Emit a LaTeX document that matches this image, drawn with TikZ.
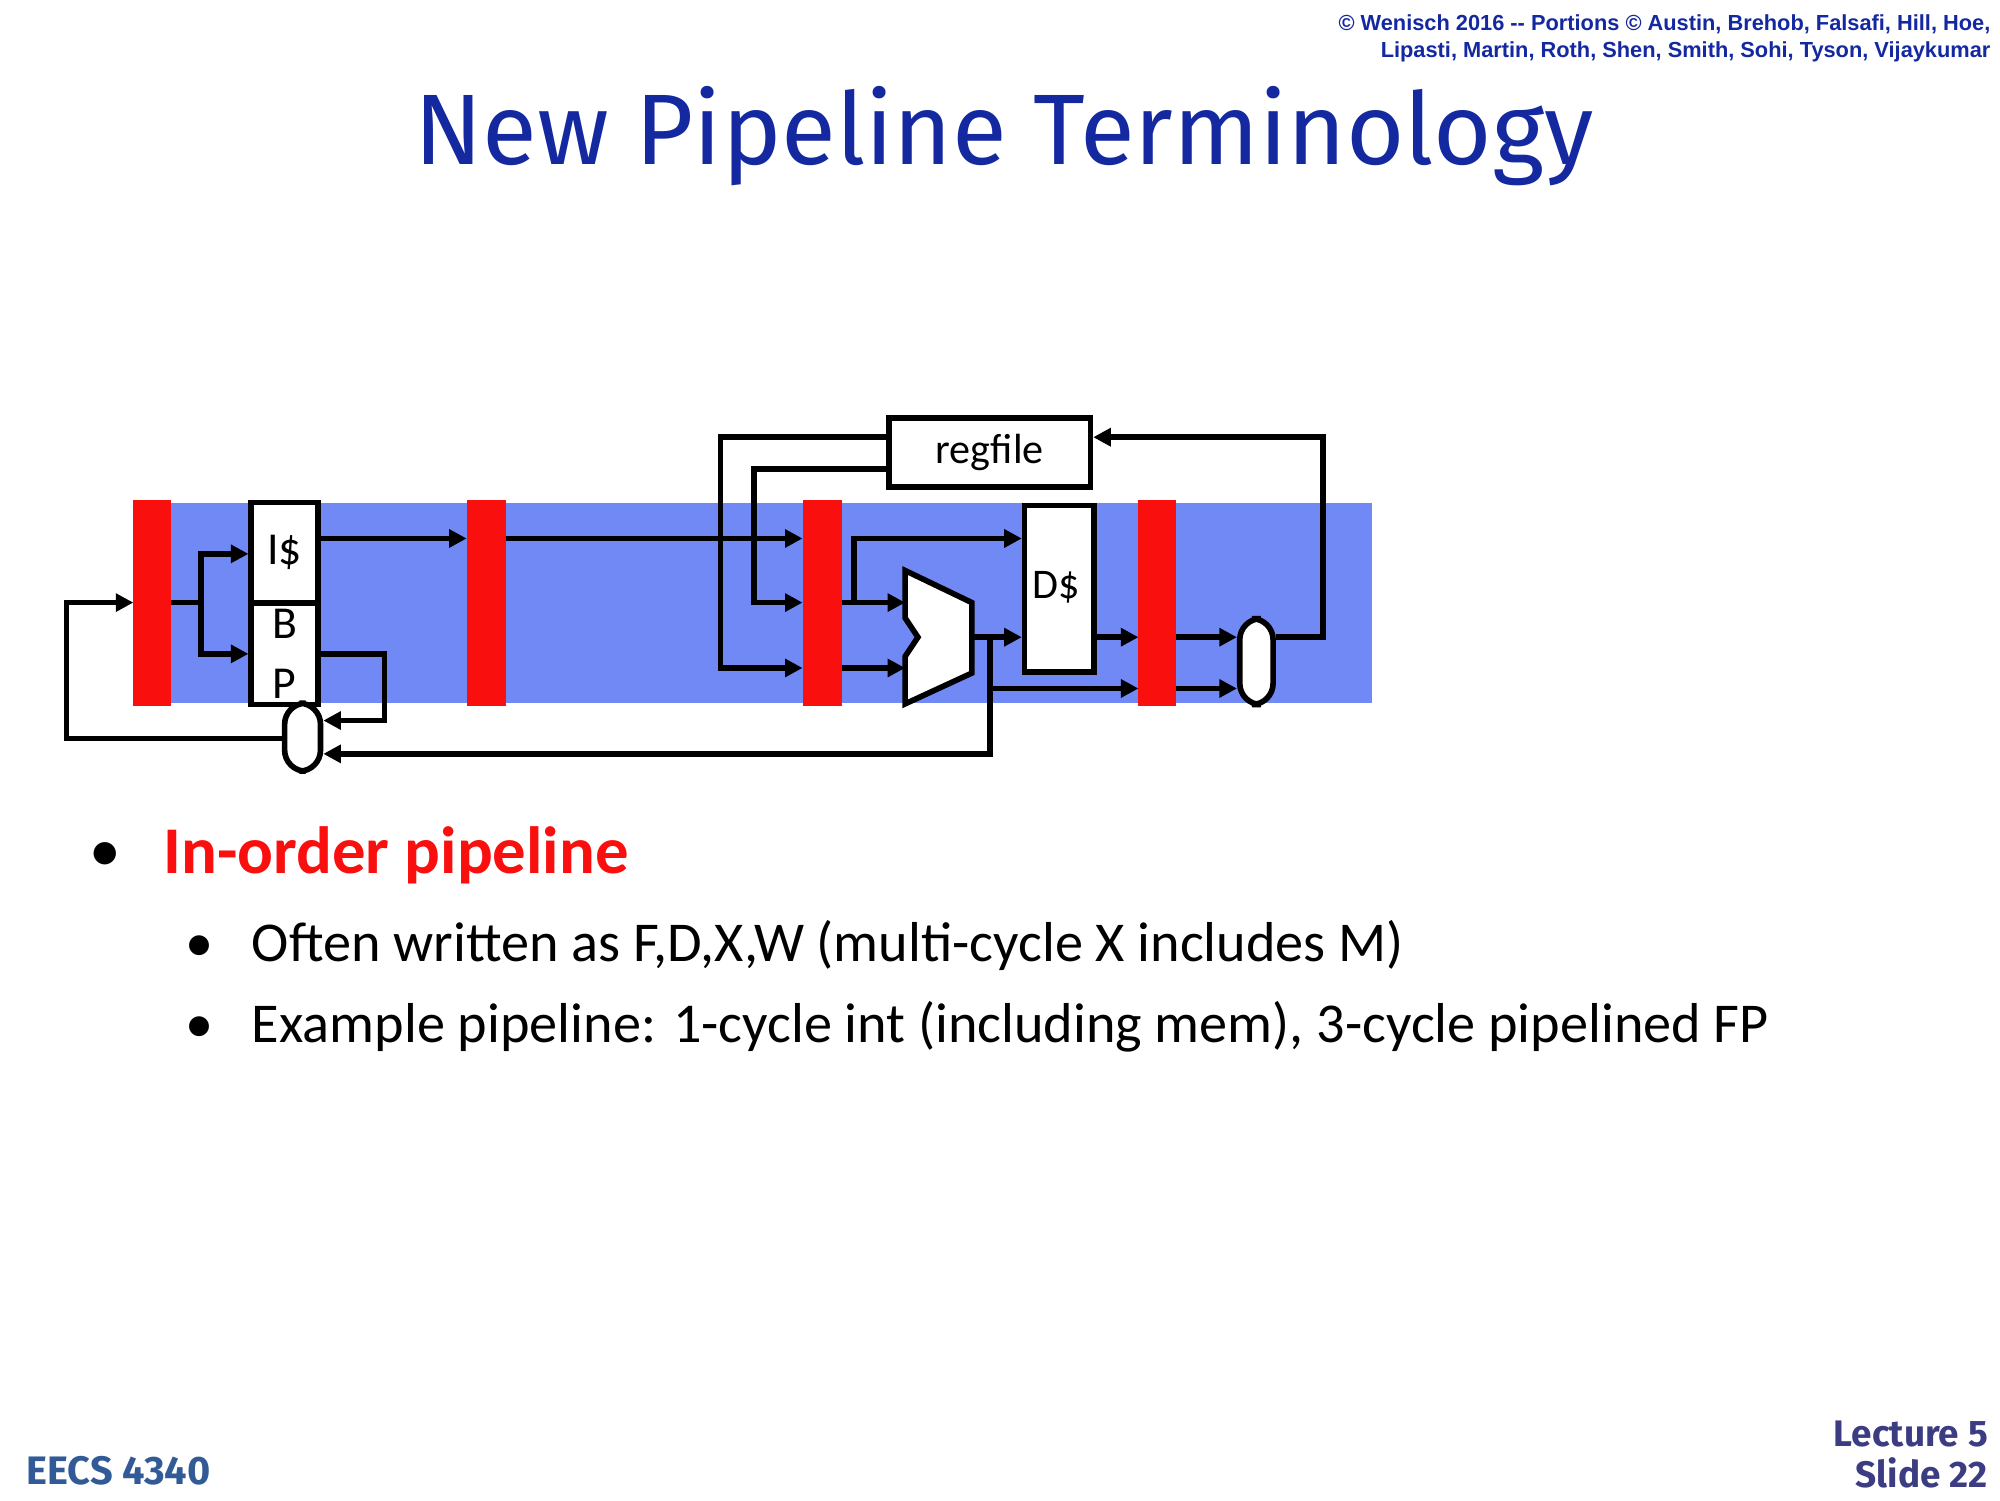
\documentclass[tikz,border=0pt]{standalone}
\usepackage{fontspec}
\setmainfont{Carlito}
\newfontfamily\hdr{Liberation Sans}
\newfontfamily\ttl{Fira Sans}
\usetikzlibrary{arrows.meta}
\definecolor{navy}{RGB}{20,40,160}
\definecolor{band}{RGB}{112,137,245}
\definecolor{stage}{RGB}{250,15,15}
\definecolor{eecs}{RGB}{50,90,150}
\definecolor{lect}{RGB}{60,60,130}
\begin{document}
\begin{tikzpicture}[x=0.012821cm,y=-0.012821cm,
  w/.style={line width=1.6pt},
  a/.style={w,-{Triangle[length=5pt,width=5pt]}},
  box/.style={draw,line width=1.6pt,fill=white,inner sep=0pt},
  bar/.style={fill=stage,draw=none}]
\useasboundingbox (0,0) rectangle (1560,1170);
% band
\fill[band] (130,392) rectangle (1070,548);
% bars
\fill[bar] (104,390) rectangle (133,551);
\fill[bar] (364,390) rectangle (395,551);
\fill[bar] (626,390) rectangle (657,551);
\fill[bar] (888,390) rectangle (917,551);
\coordinate (b1l) at (104,470); \coordinate (b1r) at (133,470);
% boxes
\node[box,minimum width=52*0.012821cm,minimum height=78*0.012821cm,font=\fontsize{13}{13}\selectfont] (ic) at (222,431) {I\$};
\node[box,minimum width=52*0.012821cm,minimum height=79*0.012821cm,font=\fontsize{13}{17}\selectfont,align=center] (bp) at (222,510) {B\\P};
\node[box,minimum width=157*0.012821cm,minimum height=54*0.012821cm,font=\fontsize{12}{12}\selectfont] (rf) at (772,353) {regfile};
\node[box,minimum width=54*0.012821cm,minimum height=130*0.012821cm,anchor=north west] (dc) at (797,392) {};
\node[font=\fontsize{12}{12}\selectfont] (dcl) at (824,458) {D\$};
\draw[w,fill=white,line join=miter] (706,445) -- (758,470) -- (758,525) -- (706,549) -- (706,512) -- (716,497) -- (706,482) -- cycle;
\node[box,rounded corners=6pt,minimum width=28*0.012821cm,minimum height=53*0.012821cm] (m1) at (236,575) {};
\node[box,rounded corners=6pt,minimum width=26*0.012821cm,minimum height=67*0.012821cm] (m2) at (980,516) {};
% wires
\draw[a] (m1.west|-0,576) -- (52,576) -- (52,470) -- (b1l);
\draw[w] (b1r) -- (157,470);
\draw[a] (157,470) -- (157,432) -- (ic.west|-0,432);
\draw[a] (157,470) -- (157,510) -- (bp.west|-0,510);
\draw[a] (bp.east|-0,510) -- (300,510) -- (300,562) -- (m1.east|-0,562);
\draw[a] (ic.east|-0,420) -- (364,420);
\draw[a] (395,420) -- (626,420);
\draw[a] (rf.west|-0,341) -- (562,341) -- (562,521) -- (626,521);
\draw[a] (rf.west|-0,366) -- (588,366) -- (588,470) -- (626,470);
\draw[a] (657,470) -- (706,470);
\draw[a] (666,470) -- (666,420) -- (dc.west|-0,420);
\draw[a] (657,521) -- (706,521);
\draw[a] (758,497) -- (dc.west|-0,497);
\draw[a] (772,497) -- (772,537) -- (888,537);
\draw[a] (772,537) -- (772,588) -- (m1.east|-0,588);
\draw[a] (dc.east|-0,497) -- (888,497);
\draw[a] (917,497) -- (m2.west|-0,497);
\draw[a] (917,537) -- (m2.west|-0,537);
\draw[a] (m2.east|-0,497) -- (1032,497) -- (1032,341) -- (rf.east|-0,341);
% header
\node[font=\hdr\bfseries\fontsize{6.2}{7.7}\selectfont,text=navy,align=right,anchor=north east,inner sep=0pt] (h) at (1553,11) {© Wenisch 2016 -- Portions © Austin, Brehob, Falsafi, Hill, Hoe,\\Lipasti, Martin, Roth, Shen, Smith, Sohi, Tyson, Vijaykumar};
\node[font=\ttl\fontsize{28.5}{28.5}\selectfont,text=navy,anchor=base] (t) at (783,128) {New Pipeline Terminology};
% bullets
\node[anchor=base,font=\fontsize{18}{18}\selectfont] (d1) at (82,680) {•};
\node[anchor=base west,inner sep=0pt,font=\bfseries\fontsize{19}{19}\selectfont,text=stage] (l1) at (127,681) {In-order pipeline};
\node[anchor=base,font=\fontsize{16}{16}\selectfont] (d2) at (156,750) {•};
\node[anchor=base west,inner sep=0pt,font=\fontsize{16}{16}\selectfont] (l2) at (196,750) {Often written as F,D,X,W (multi-cycle X includes M)};
\node[anchor=base,font=\fontsize{16}{16}\selectfont] (d3) at (156,813) {•};
\node[anchor=base west,inner sep=0pt,font=\fontsize{16}{16}\selectfont] (l3) at (196,813) {Example pipeline: 1-cycle int (including mem), 3-cycle pipelined FP};
% footer
\node[anchor=base west,inner sep=0pt,font=\ttl\bfseries\fontsize{11.3}{11.3}\selectfont,text=eecs] (f1) at (20,1158) {EECS 4340};
\node[anchor=north east,inner sep=0pt,align=right,font=\ttl\bfseries\fontsize{10.5}{11.5}\selectfont,text=lect] (f2) at (1551,1108) {Lecture 5\\Slide 22};
\end{tikzpicture}
\end{document}
